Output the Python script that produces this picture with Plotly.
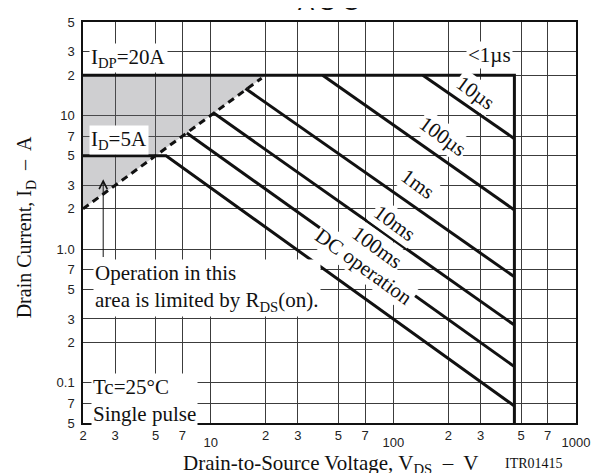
import math
import plotly.graph_objects as go

L = math.log10

# ---------------- data ----------------
x_minor_ticks = [2, 3, 5, 7, 20, 30, 50, 70, 200, 300, 500, 700]
x_minor_text = ["2", "3", "5", "7", "2", "3", "5", "7", "2", "3", "5", "7"]
x_decade_ticks = [10, 100, 1000]
x_decade_text = ["10", "100", "1000"]
y_ticks = [0.05, 0.07, 0.1, 0.2, 0.3, 0.5, 0.7, 1, 2, 3, 5, 7, 10, 20, 30, 50]
y_ticks_text = ["5", "7", "0.1", "2", "3", "5", "7", "1.0", "2", "3", "5", "7", "10", "2", "3", "5"]

# SOA boundary: IDP = 20 A up to VDS limit, then vertical
outline_v = [2, 460, 460]
outline_i = [20, 20, 0.05]

# RDS(on) limit (dashed) and the shaded area it bounds
rds_v = [2, 19]
rds_i = [2, 19]
shade_v = [2, 2, 20]
shade_i = [2, 20, 20]

# pulse-width limit lines
dc_v = [2, 5.7, 460]
dc_i = [5, 5, 0.067]
ms100_v = [7.4, 460]
ms100_i = [7.4, 0.132]
ms10_v = [10.3, 460]
ms10_i = [10.5, 0.27]
ms1_v = [15.5, 460]
ms1_i = [15.9, 0.62]
us100_v = [41, 460]
us100_i = [20, 1.96]
us10_v = [145, 460]
us10_i = [20, 6.7]

# ---------------- figure ----------------
fig = go.Figure()
thick = dict(color="#111111", width=3)

fig.add_trace(go.Scatter(x=shade_v, y=shade_i, mode="lines", fill="toself",
                         fillcolor="rgba(105,105,112,0.32)", line=dict(width=0),
                         hoverinfo="skip", showlegend=False))
fig.add_trace(go.Scatter(x=rds_v, y=rds_i, mode="lines",
                         line=dict(color="#111111", width=3, dash="7px,5px"),
                         hoverinfo="skip", showlegend=False))
for xv, yv in [(dc_v, dc_i), (ms100_v, ms100_i), (ms10_v, ms10_i),
               (ms1_v, ms1_i), (us100_v, us100_i), (us10_v, us10_i)]:
    fig.add_trace(go.Scatter(x=xv, y=yv, mode="lines", line=thick,
                             hoverinfo="skip", showlegend=False))
fig.add_trace(go.Scatter(x=outline_v, y=outline_i, mode="lines", line=thick,
                         xaxis="x2", hoverinfo="skip", showlegend=False))

serif = "Liberation Serif, Times New Roman, serif"
sans = "Liberation Sans, Arial, sans-serif"
tickfont = dict(family=sans, size=13, color="#222222")
grid = "#3c3c3c"

# the page adds an 8px body margin, so the figure is drawn 8px smaller
fig.update_layout(
    width=600, height=465,
    margin=dict(l=75, r=32, t=7, b=50),
    paper_bgcolor="white", plot_bgcolor="white",
    showlegend=False,
    xaxis=dict(type="log", range=[L(2), 3],
               tickvals=x_minor_ticks, ticktext=x_minor_text,
               showgrid=True, gridcolor=grid, gridwidth=1,
               showline=True, linecolor="#111111", linewidth=1.5, mirror=True,
               ticks="", zeroline=False, tickfont=tickfont, ticklabelstandoff=0),
    xaxis2=dict(type="log", range=[L(2), 3], overlaying="x", anchor="y", side="bottom",
                tickvals=x_decade_ticks, ticktext=x_decade_text,
                showgrid=True, gridcolor=grid, gridwidth=1,
                showline=False, ticks="", zeroline=False,
                tickfont=tickfont, ticklabelstandoff=10),
    yaxis=dict(type="log", range=[L(0.05), L(50)],
               tickvals=y_ticks, ticktext=y_ticks_text,
               showgrid=True, gridcolor=grid, gridwidth=1,
               showline=True, linecolor="#111111", linewidth=1.5, mirror=True,
               ticks="", zeroline=False, tickfont=tickfont, ticklabelstandoff=4),
)

ann = []
lab = dict(family=serif, size=21, color="#111111")


def txt(x, y, text, **kw):
    d = dict(x=L(x), y=L(y), xref="x", yref="y", text=text, showarrow=False,
             font=lab, bgcolor="white", borderpad=1)
    d.update(kw)
    ann.append(d)


txt(2.15, 20, "I<sub>DP</sub>=20A", xanchor="left", yanchor="bottom", yshift=2)
txt(2.15, 5, "I<sub>D</sub>=5A", xanchor="left", yanchor="bottom", yshift=1)
txt(335, 28.1, "&lt;1µs")
txt(283, 14.8, "10µs", textangle=36)
txt(186, 7.0, "100µs", textangle=36)
txt(136, 3.05, "1ms", textangle=36)
txt(101.5, 1.57, "10ms", textangle=36)
txt(81, 1.03, "100ms", textangle=36)
txt(69.4, 0.74, "DC operation", textangle=36)
txt(2.27, 0.51, "Operation in this<br>area is limited by R<sub>DS</sub>(on).",
    xanchor="left", align="left")
txt(2.22, 0.0743, "Tc=25°C<br>Single pulse", xanchor="left", align="left")

# arrow pointing into the RDS(on)-limited area
ann.append(dict(x=L(2.58), y=L(3.33), ax=L(2.58), ay=L(0.85), xref="x", yref="y",
                axref="x", ayref="y", text="", showarrow=True, arrowhead=5,
                arrowsize=1.6, arrowwidth=1, arrowcolor="#111111"))

# titles
ann.append(dict(x=0.5, y=1, xref="paper", yref="paper", text="A S O",
                showarrow=False, xanchor="center", yanchor="bottom", yshift=5,
                font=dict(family=sans, size=24, color="#111111")))
ann.append(dict(x=0.503, y=0, xref="paper", yref="paper",
                text="Drain-to-Source Voltage, V<sub>DS</sub>  –  V",
                showarrow=False, xanchor="center", yanchor="top", yshift=-26,
                font=dict(family=serif, size=21, color="#111111")))
ann.append(dict(x=0.915, y=0, xref="paper", yref="paper", text="ITR01415",
                showarrow=False, xanchor="center", yanchor="top", yshift=-31,
                font=dict(family=serif, size=14, color="#111111")))
ann.append(dict(x=-0.12, y=0.5, xref="paper", yref="paper",
                text="Drain Current, I<sub>D</sub>  –  A", textangle=-90,
                showarrow=False, xanchor="center", yanchor="middle", xshift=2, yshift=-5,
                font=dict(family=serif, size=20, color="#111111")))

fig.update_layout(annotations=ann)
fig.write_html("out.html", config={"displayModeBar": False})
